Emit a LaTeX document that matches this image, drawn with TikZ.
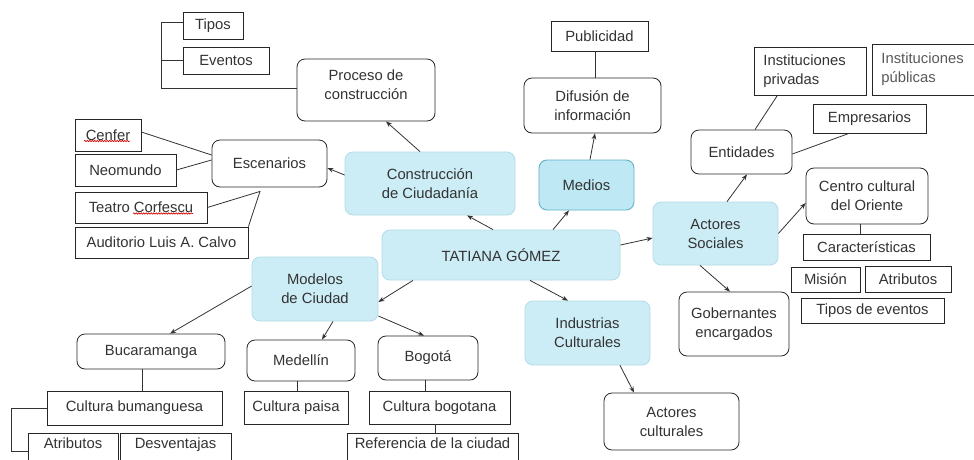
\documentclass[tikz,border=0pt]{standalone}
\usepackage{fontspec}
\setmainfont{Liberation Sans}
\usetikzlibrary{arrows.meta,decorations.pathmorphing}
\definecolor{hubfill}{RGB}{204,237,246}
\definecolor{hubedge}{RGB}{178,220,233}
\definecolor{mediafill}{RGB}{189,232,244}
\definecolor{mediaedge}{RGB}{98,178,198}
\begin{document}
\begin{tikzpicture}[x=1pt, y=-1pt,
        font=\fontsize{14.8}{19}\selectfont,
        every node/.style={align=center, inner sep=0pt, text=black!80},
        leaf/.style={draw=black!85, line width=0.8pt},
        roundbox/.style={draw=black!85, line width=0.8pt, rounded corners=8pt},
        hub/.style={fill=hubfill, draw=hubedge, line width=0.8pt, rounded corners=8pt},
        media/.style={fill=mediafill, draw=mediaedge, line width=0.9pt, rounded corners=8pt},
        multileaf/.style={leaf, align=left, inner xsep=9pt},
        cutleaf/.style={leaf, anchor=north, inner ysep=5pt, text height=10.5pt, text depth=12pt},
        link/.style={draw=black!80, line width=0.8pt},
        linkarrow/.style={link, -{Stealth[length=6pt, width=4.5pt]}},
        spell/.style={draw=red!85!black, line width=0.6pt, decorate, decoration={snake, amplitude=0.7pt, segment length=2.5pt}}]
        \clip (0, 0) rectangle (974, 459);
        \fill[white] (0, 0) rectangle (974, 459);
        \draw (213, 25.5) node[leaf, minimum width=60pt, minimum height=27pt](tipos){Tipos}
        (226, 60.5) node[leaf, minimum width=86pt, minimum height=27pt](eventos){Eventos}
        (366, 90) node[roundbox, minimum width=138pt, minimum height=62pt, text depth=10pt](proceso){Proceso de\\construcción}
        (108, 135) node[leaf, minimum width=66pt, minimum height=32pt](cenfer){Cenfer}
        (125.5, 170) node[leaf, minimum width=101pt, minimum height=32pt](neomundo){Neomundo}
        (141, 207.5) node[leaf, minimum width=132pt, minimum height=31pt](teatro){Teatro Corfescu}
        (161.5, 242.5) node[leaf, minimum width=173pt, minimum height=31pt](auditorio){Auditorio Luis A. Calvo}
        (269.5, 163.5) node[roundbox, minimum width=115pt, minimum height=47pt](escenarios){Escenarios};
        \draw (430, 183.5) node[hub, minimum width=170pt, minimum height=63pt](construccion){Construcción\\de Ciudadanía}
        (586.5, 185) node[media, minimum width=95pt, minimum height=50pt](medios){Medios}
        (501, 255) node[hub, minimum width=238pt, minimum height=50pt](tatiana){TATIANA GÓMEZ}
        (315, 289) node[hub, minimum width=126pt, minimum height=64pt](modelos){Modelos\\de Ciudad}
        (587.5, 333) node[hub, minimum width=125pt, minimum height=64pt](industrias){Industrias\\Culturales}
        (715.5, 233.5) node[hub, minimum width=125pt, minimum height=63pt](actsoc){Actores\\Sociales};
        \draw (599.5, 36) node[leaf, minimum width=97pt, minimum height=30pt](publicidad){Publicidad}
        (592.5, 105.5) node[roundbox, minimum width=137pt, minimum height=55pt](difusion){Difusión de\\información}
        (741.5, 152) node[roundbox, minimum width=101pt, minimum height=44pt](entidades){Entidades}
        (754, 71) node[multileaf, anchor=west, text width=94pt, minimum height=48pt](instpriv){Instituciones\\privadas}
        (872, 69.5) node[multileaf, anchor=west, text width=100pt, minimum height=51pt, text=black!65](instpub){Instituciones\\públicas}
        (869.5, 118.5) node[leaf, minimum width=113pt, minimum height=29pt](empresarios){Empresarios}
        (867, 196) node[roundbox, minimum width=122pt, minimum height=56pt](centro){Centro cultural\\del Oriente}
        (866.5, 247) node[leaf, minimum width=127pt, minimum height=26pt](caracteristicas){Características}
        (825.5, 279.5) node[leaf, minimum width=69pt, minimum height=25pt](mision){Misión}
        (908, 279) node[leaf, minimum width=86pt, minimum height=26pt](atributosR){Atributos}
        (872.5, 310.5) node[leaf, minimum width=143pt, minimum height=25pt](tiposev){Tipos de eventos}
        (734, 324) node[roundbox, minimum width=110pt, minimum height=64pt](gobernantes){Gobernantes\\encargados}
        (671.5, 421.5) node[roundbox, minimum width=135pt, minimum height=57pt](actcult){Actores\\culturales};
        \draw (151, 351.5) node[roundbox, minimum width=148pt, minimum height=35pt](bucaramanga){Bucaramanga}
        (301, 360.5) node[roundbox, minimum width=108pt, minimum height=41pt](medellin){Medellín}
        (428, 358) node[roundbox, minimum width=100pt, minimum height=44pt](bogota){Bogotá}
        (134.5, 408) node[leaf, minimum width=175pt, minimum height=34pt](cultbum){Cultura bumanguesa}
        (296, 407.5) node[leaf, minimum width=104pt, minimum height=33pt](cultpaisa){Cultura paisa}
        (439.5, 407.5) node[leaf, minimum width=141pt, minimum height=33pt](cultbog){Cultura bogotana}
        (73, 433) node[cutleaf, minimum width=90pt](atributosL){Atributos}
        (175.5, 433) node[cutleaf, minimum width=111pt](desventajas){Desventajas}
        (432.5, 433) node[cutleaf, minimum width=171pt](referencia){Referencia de la ciudad};
        \draw[linkarrow] ([xshift=-8pt]tatiana.north) -- ([xshift=37pt]construccion.south);
        \draw[linkarrow] ([xshift=52pt]tatiana.north) -- ([xshift=-17.5pt]medios.south);
        \draw[linkarrow] ([xshift=-88pt]tatiana.south) -- ([yshift=-13pt]modelos.east);
        \draw[linkarrow] ([xshift=29pt]tatiana.south) -- ([xshift=-19.5pt]industrias.north);
        \draw[linkarrow] ([yshift=10pt]tatiana.east) -- ([yshift=-4.5pt]actsoc.west);
        \draw[linkarrow] ([yshift=8.5pt]construccion.west) -- ([yshift=-4.5pt]escenarios.east);
        \draw[linkarrow] ([xshift=-10pt]construccion.north) -- ([xshift=20pt]proceso.south);
        \draw[linkarrow] ([xshift=3.5pt]medios.north) -- ([xshift=2.5pt]difusion.south);
        \draw[linkarrow] ([yshift=3pt]modelos.west) -- ([xshift=19pt]bucaramanga.north);
        \draw[linkarrow] ([xshift=18pt]modelos.south) -- ([xshift=21pt]medellin.north);
        \draw[linkarrow] ([yshift=-27pt]modelos.east) -- ([xshift=-4pt]bogota.north);
        \draw[linkarrow] ([xshift=32.5pt]industrias.south) -- ([xshift=-37.5pt]actcult.north);
        \draw[linkarrow] ([xshift=11.5pt]actsoc.north) -- ([xshift=5.5pt]entidades.south);
        \draw[linkarrow] (actsoc.east) -- ([yshift=-7pt]centro.west);
        \draw[linkarrow] ([xshift=-15.5pt]actsoc.south) -- ([xshift=-4pt]gobernantes.north);
        \draw[link] ([xshift=-4.5pt]publicidad.south) -- ([xshift=2.5pt]difusion.north);
        \draw[link] ([xshift=13.5pt]entidades.north) -- ([xshift=-33pt]instpriv.south);
        \draw[link] ([yshift=-2pt]entidades.east) -- ([xshift=-20.5pt]empresarios.south);
        \draw[link] ([xshift=-7pt]centro.south) -- ([xshift=-6.5pt]caracteristicas.north);
        \draw[link] ([yshift=3pt]cenfer.east) -- ([yshift=8.5pt]escenarios.west);
        \draw[link] (neomundo.east) -- ([yshift=3.5pt]escenarios.west);
        \coordinate (escfoot) at ([xshift=-9.5pt, yshift=-4pt]escenarios.south);
        \draw[link] (teatro.east) -- (escfoot) -- (auditorio.north east);
        \draw[link] ([yshift=3.5pt]tipos.west) -- ++(-21, 0) |- ([yshift=2pt]proceso.west);
        \draw[link] (eventos.west) -- ++(-21, 0);
        \draw[link] ([xshift=-9pt]bucaramanga.south) -- ([xshift=7.5pt]cultbum.north);
        \draw[link] (cultbum.west) -- ++(-35, 0) |- ([yshift=-2pt]atributosL.west);
        \draw[link] ([xshift=-4pt]medellin.south) -- ([xshift=1pt]cultpaisa.north);
        \draw[link] ([xshift=-3pt]bogota.south) -- ([xshift=-14.5pt]cultbog.north);
        \draw[link] ([xshift=-4.5pt]cultbog.south) -- ([xshift=2.5pt]referencia.north);
        \draw[spell] ([xshift=-24pt, yshift=-6pt]cenfer.center) -- ++(46, 0);
        \draw[spell] ([xshift=-8pt, yshift=-6pt]teatro.center) -- ++(60, 0);
\end{tikzpicture}
\end{document}
